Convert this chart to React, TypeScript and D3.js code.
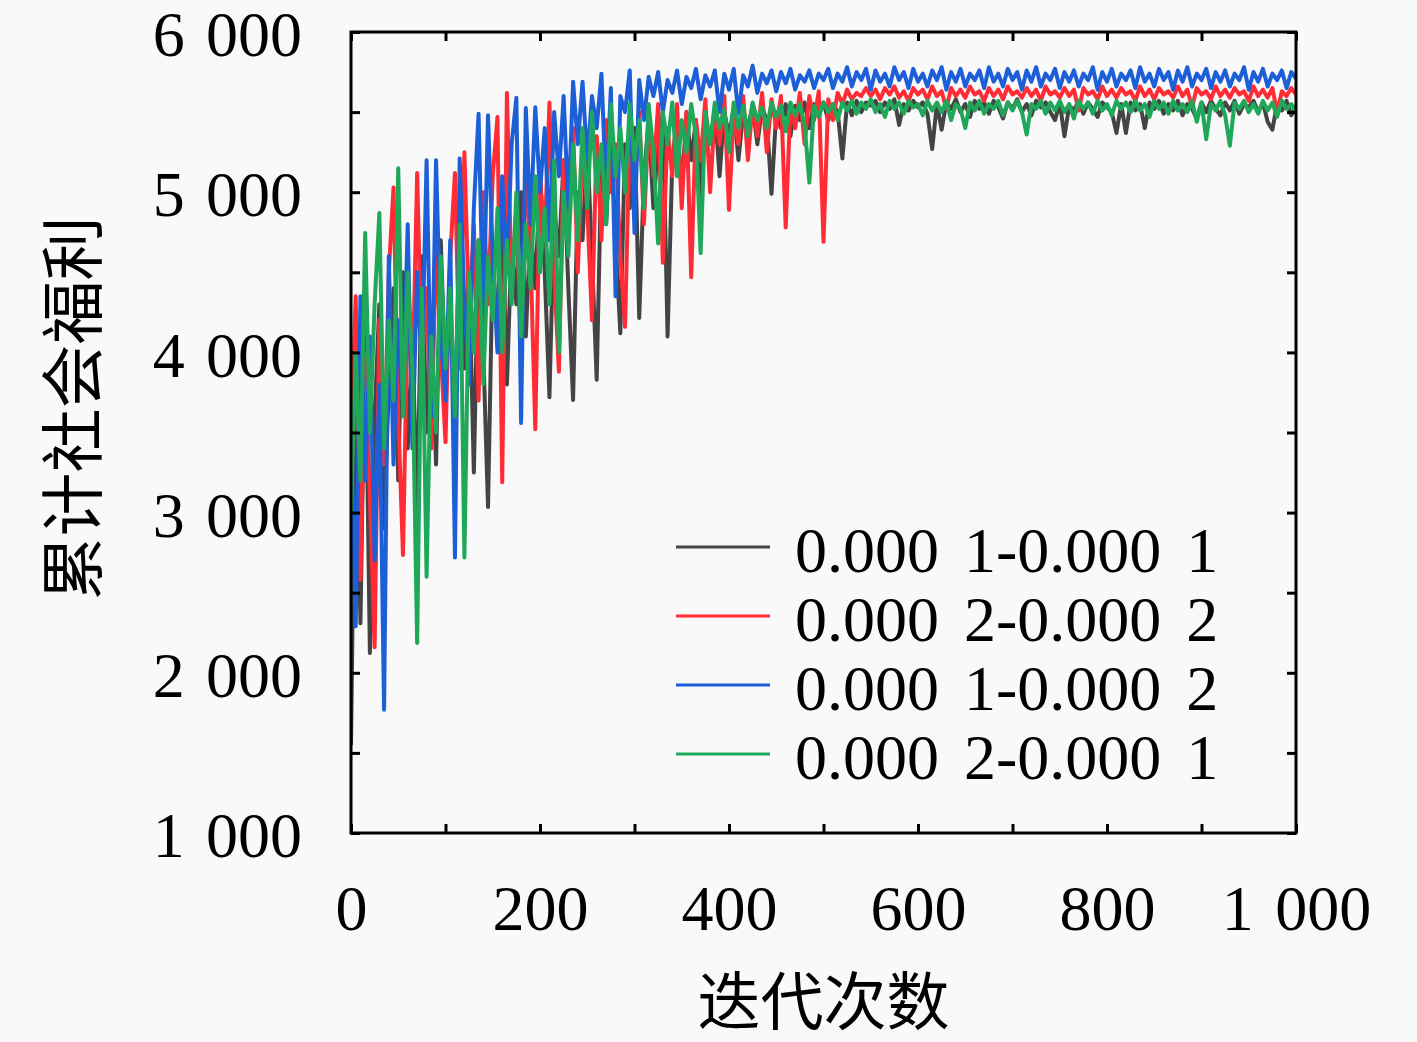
import { useEffect, useRef } from 'react'
import * as d3 from 'd3'

// iterations sampled every 5 steps, 0..1000
const iterations = d3.range(0, 1001, 5)

const seriesNames = ['0.000 1-0.000 1', '0.000 2-0.000 2', '0.000 1-0.000 2', '0.000 2-0.000 1']
const seriesColors = ['#444444', '#ff2b35', '#1d5fd6', '#1fa85a']

const gray = [
    1550, 3900, 2310, 4200, 2124, 3600, 4300, 2900, 3800, 4400,
    3200, 4500, 3400, 4100, 3000, 4600, 3500, 4200, 3300, 4700,
    3800, 4300, 3600, 4800, 3900, 4500, 3250, 4700, 4000, 3035,
    4600, 4100, 4900, 3800, 4700, 4300, 5000, 4100, 4800, 4400,
    5100, 4500, 3720, 4900, 4600, 5200, 4400, 3703, 5000, 4700,
    5300, 4600, 3830, 5200, 4800, 5400, 4700, 4120, 5300, 4900,
    5400, 4215, 5100, 5450, 4900, 5300, 5500, 4100, 5200, 5450,
    5000, 5500, 5200, 5450, 4950, 5500, 5300, 5520, 5100, 5500,
    5350, 5530, 5200, 5500, 5400, 5540, 5300, 5530, 5450, 4990,
    5500, 5400, 5550, 5350, 5540, 5450, 5560, 5400, 5550, 5480,
    5560, 5450, 5550, 5500, 5210, 5560, 5480, 5570, 5500, 5560,
    5540, 5570, 5500, 5560, 5520, 5580, 5420, 5550, 5510, 5570,
    5530, 5560, 5490, 5270, 5550, 5390, 5560, 5520, 5580, 5500,
    5550, 5470, 5570, 5520, 5560, 5490, 5570, 5530, 5460, 5560,
    5520, 5580, 5500, 5550, 5480, 5570, 5530, 5560, 5500, 5450,
    5560, 5350, 5540, 5510, 5570, 5490, 5560, 5520, 5470, 5560,
    5530, 5500, 5370, 5550, 5370, 5560, 5510, 5550, 5400, 5560,
    5520, 5570, 5490, 5550, 5510, 5570, 5480, 5550, 5520, 5460,
    5560, 5500, 5570, 5520, 5480, 5560, 5510, 5570, 5490, 5550,
    5530, 5570, 5500, 5560, 5440, 5390, 5550, 5510, 5570, 5480,
    5540,
]

const red = [
    3500, 4350, 2580, 4000, 3100, 2160, 4200, 3300, 4500, 5030,
    3600, 2735, 4300, 3800, 5120, 3900, 4400, 3400, 4700, 4000,
    3440, 4600, 5120, 3900, 5250, 4200, 4800, 3700, 5000, 4300,
    5100, 5470, 3190, 5620, 4400, 4900, 4000, 5200, 4600, 3520,
    5100, 4700, 5560, 4500, 3880, 5200, 4800, 5400, 4500, 5300,
    4900, 4200, 5350, 4700, 5450, 5000, 5300, 4600, 4160, 5400,
    5000, 5500, 4800, 5450, 5100, 5550, 4560, 5400, 5100, 5550,
    4900, 5500, 4470, 5450, 5200, 5580, 5000, 5500, 5300, 5600,
    4890, 5500, 5300, 5600, 5200, 5550, 5350, 5620, 5250, 5580,
    5400, 5600, 4780, 5550, 5400, 5620, 5300, 5600, 5450, 5630,
    4690, 5580, 5450, 5620, 5550, 5640, 5580, 5620, 5600, 5650,
    5600, 5640, 5580, 5650, 5610, 5660, 5590, 5630, 5570, 5650,
    5610, 5640, 5580, 5660, 5600, 5630, 5520, 5650, 5600, 5640,
    5590, 5660, 5610, 5630, 5570, 5650, 5600, 5640, 5580, 5660,
    5610, 5630, 5590, 5650, 5600, 5640, 5570, 5660, 5610, 5630,
    5590, 5650, 5600, 5640, 5510, 5650, 5610, 5630, 5580, 5660,
    5600, 5640, 5590, 5650, 5610, 5630, 5570, 5660, 5600, 5640,
    5580, 5650, 5610, 5630, 5590, 5660, 5600, 5640, 5530, 5650,
    5610, 5630, 5580, 5660, 5600, 5640, 5590, 5650, 5610, 5630,
    5570, 5660, 5600, 5640, 5590, 5650, 5500, 5630, 5600, 5650,
    5610,
]

const blue = [
    3600, 2290, 4350, 3200, 4100, 2700, 3800, 1770, 4600, 3300,
    4200, 3700, 4800, 3400, 4500, 3900, 5200, 3600, 5200, 4100,
    3700, 4700, 2720, 5210, 4300, 3800, 4900, 5490, 4200, 5480,
    4600, 4000, 5100, 4500, 5300, 5590, 3560, 5525, 4800, 5530,
    5000, 5400, 4700, 5500, 5100, 5600, 4900, 5690, 5300, 5690,
    5200, 5600, 5400, 5740, 5000, 5650, 4350, 5600, 5500, 5760,
    4745, 5700, 5450, 5720, 5600, 5750, 5500, 5700, 5620, 5760,
    5550, 5720, 5650, 5770, 5580, 5730, 5660, 5760, 5500, 5740,
    5640, 5770, 5490, 5730, 5660, 5790, 5620, 5740, 5680, 5760,
    5630, 5750, 5680, 5770, 5640, 5730, 5690, 5760, 5650, 5740,
    5700, 5770, 5650, 5740, 5690, 5780, 5660, 5750, 5700, 5770,
    5640, 5760, 5690, 5740, 5660, 5780, 5700, 5750, 5650, 5770,
    5690, 5740, 5660, 5760, 5700, 5780, 5640, 5750, 5690, 5770,
    5660, 5740, 5700, 5760, 5650, 5780, 5690, 5740, 5660, 5770,
    5700, 5750, 5640, 5760, 5690, 5780, 5660, 5740, 5700, 5770,
    5650, 5750, 5690, 5760, 5660, 5740, 5700, 5780, 5640, 5750,
    5690, 5770, 5660, 5740, 5700, 5760, 5650, 5780, 5690, 5740,
    5660, 5770, 5700, 5750, 5640, 5760, 5690, 5780, 5660, 5740,
    5700, 5770, 5650, 5750, 5690, 5760, 5660, 5740, 5700, 5780,
    5640, 5750, 5690, 5770, 5660, 5740, 5700, 5760, 5650, 5750,
    5710,
]

const green = [
    3000, 4000, 3200, 4745, 3500, 4300, 4870, 3400, 4200, 3700,
    5150, 3600, 4500, 3900, 2186, 4400, 2600, 4100, 3500, 4600,
    3900, 4400, 3600, 4800, 2720, 4500, 4000, 4700, 3800, 4600,
    4200, 4900, 4000, 4700, 4300, 5000, 4100, 4800, 4400, 5100,
    4500, 4900, 4300, 5200, 4000, 5000, 4600, 5300, 4700, 5400,
    4900, 5500, 5000, 5300, 4800, 5550, 5100, 5400, 5000, 5550,
    5200, 5450, 4900, 5550, 5250, 4680, 5500, 5300, 5560, 5100,
    5450, 5250, 5550, 5350, 4620, 5500, 5300, 5560, 5400, 5520,
    5250, 5560, 5400, 5540, 5350, 5560, 5450, 5530, 5400, 5560,
    5470, 5540, 5380, 5560, 5480, 5550, 5420, 5060, 5540, 5470,
    5560, 5500, 5550, 5450, 5560, 5510, 5570, 5490, 5560, 5520,
    5580, 5500, 5550, 5470, 5570, 5520, 5560, 5490, 5570, 5530,
    5550, 5480, 5570, 5510, 5560, 5500, 5570, 5450, 5550, 5520,
    5400, 5560, 5510, 5570, 5490, 5550, 5520, 5570, 5480, 5560,
    5510, 5570, 5500, 5360, 5550, 5520, 5570, 5490, 5560, 5510,
    5570, 5500, 5550, 5460, 5570, 5520, 5560, 5490, 5570, 5510,
    5550, 5480, 5570, 5520, 5560, 5500, 5570, 5510, 5550, 5470,
    5570, 5520, 5560, 5490, 5570, 5510, 5550, 5500, 5570, 5440,
    5560, 5330, 5550, 5510, 5570, 5480, 5290, 5560, 5520, 5570,
    5500, 5550, 5490, 5570, 5510, 5560, 5470, 5570, 5520, 5550,
    5500,
]

const xLabelTicks = [0, 200, 400, 600, 800, 1000]
const yLabelTicks = [1000, 2000, 3000, 4000, 5000, 6000]

const formatNum = (n: number) =>
    n >= 1000 ? `${Math.floor(n / 1000)}\u2004${String(n % 1000).padStart(3, '0')}` : String(n)

const App = () => {
    const ref = useRef<SVGSVGElement | null>(null)

    useEffect(() => {
        if (!ref.current) return

        const width = 1417
        const height = 1042
        const left = 351
        const right = 1296
        const top = 32
        const bottom = 833
        const numFont = '"Liberation Serif", "Times New Roman", serif'
        const cjkFont = '"Noto Sans CJK SC", sans-serif'

        const svg = d3.select(ref.current)
        svg.selectAll('*').remove()
        svg.attr('width', width).attr('height', height)

        svg.append('rect').attr('width', width).attr('height', height).attr('fill', '#f9f9f9')

        const x = d3.scaleLinear().domain([0, 1000]).range([left, right])
        const y = d3.scaleLinear().domain([1000, 6000]).range([bottom, top])

        svg.append('clipPath')
            .attr('id', 'plot-clip')
            .append('rect')
            .attr('x', left)
            .attr('y', top)
            .attr('width', right - left)
            .attr('height', bottom - top)

        const line = d3
            .line<number>()
            .x((_, i) => x(iterations[i]))
            .y(d => y(d))

        const allSeries = [gray, red, blue, green]

        svg.append('g')
            .attr('clip-path', 'url(#plot-clip)')
            .selectAll('path')
            .data(allSeries)
            .join('path')
            .attr('d', d => line(d))
            .attr('fill', 'none')
            .attr('stroke', (_, i) => seriesColors[i])
            .attr('stroke-width', 4)
            .attr('stroke-linejoin', 'round')

        // inner ticks on all four sides
        const tickLen = -9
        const minorX = d3.range(0, 1001, 100)
        const minorY = d3.range(1000, 6001, 500)
        const tickGroups = [
            svg.append('g').attr('transform', `translate(0,${bottom})`)
                .call(d3.axisBottom(x).tickValues(minorX).tickSize(tickLen).tickFormat(() => '')),
            svg.append('g').attr('transform', `translate(0,${top})`)
                .call(d3.axisTop(x).tickValues(minorX).tickSize(tickLen).tickFormat(() => '')),
            svg.append('g').attr('transform', `translate(${left},0)`)
                .call(d3.axisLeft(y).tickValues(minorY).tickSize(tickLen).tickFormat(() => '')),
            svg.append('g').attr('transform', `translate(${right},0)`)
                .call(d3.axisRight(y).tickValues(minorY).tickSize(tickLen).tickFormat(() => '')),
        ]
        tickGroups.forEach(g => {
            g.select('.domain').remove()
            g.selectAll('line').attr('stroke', '#000').attr('stroke-width', 3)
        })

        svg.append('rect')
            .attr('x', left)
            .attr('y', top)
            .attr('width', right - left)
            .attr('height', bottom - top)
            .attr('fill', 'none')
            .attr('stroke', '#000')
            .attr('stroke-width', 3)

        const xAxis = svg.append('g')
            .attr('transform', `translate(0,${bottom})`)
            .call(d3.axisBottom(x).tickValues(xLabelTicks).tickSize(0).tickPadding(52).tickFormat(d => formatNum(+d)))
        xAxis.select('.domain').remove()
        xAxis.selectAll('text').attr('font-family', numFont).attr('font-size', 64).attr('fill', '#000')

        const yAxis = svg.append('g')
            .attr('transform', `translate(${left},0)`)
            .call(d3.axisLeft(y).tickValues(yLabelTicks).tickSize(0).tickPadding(49).tickFormat(d => formatNum(+d)))
        yAxis.select('.domain').remove()
        yAxis.selectAll('text').attr('font-family', numFont).attr('font-size', 64).attr('fill', '#000').attr('dy', '0.37em')

        svg.append('text')
            .attr('x', (left + right) / 2)
            .attr('y', 1024)
            .attr('text-anchor', 'middle')
            .attr('font-family', cjkFont)
            .attr('font-size', 63)
            .text('迭代次数')

        svg.append('text')
            .attr('transform', `translate(96,${(top + bottom) / 2 - 24}) rotate(-90)`)
            .attr('text-anchor', 'middle')
            .attr('font-family', cjkFont)
            .attr('font-size', 64)
            .text('累计社会福利')

        const legend = svg.append('g').attr('transform', 'translate(676,547)')
        seriesNames.forEach((name, i) => {
            const row = legend.append('g').attr('transform', `translate(0,${i * 69})`)
            row.append('line')
                .attr('x1', 0)
                .attr('x2', 94)
                .attr('stroke', seriesColors[i])
                .attr('stroke-width', 3)
            row.append('text')
                .attr('x', 119)
                .attr('y', 25)
                .attr('font-family', numFont)
                .attr('font-size', 64)
                .attr('word-spacing', 9)
                .text(name)
        })
    }, [])

    return (
        <div style={{ position: 'absolute', left: 0, top: 0 }}>
            <svg ref={ref}></svg>
        </div>
    )
}

export default App
